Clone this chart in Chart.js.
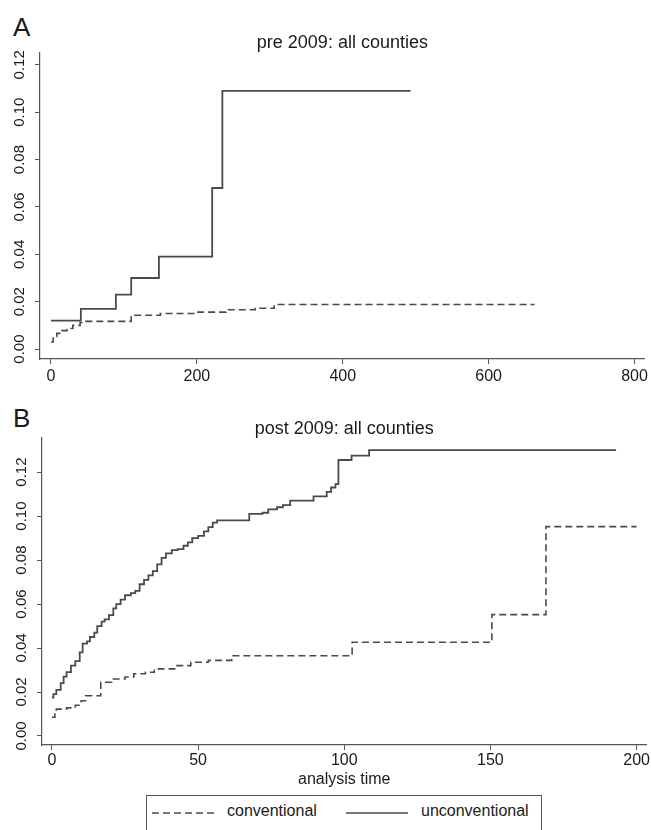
<!DOCTYPE html>
<html>
<head>
<meta charset="utf-8">
<script src="https://cdn.jsdelivr.net/npm/chart.js@4.4.1/dist/chart.umd.min.js"></script>
<style>
  html, body { margin: 0; padding: 0; background: #fff; }
  body { width: 651px; height: 830px; position: relative; overflow: hidden;
         font-family: "Liberation Sans", Arial, sans-serif; color: #1a1a1a; }
  .panel { position: absolute; left: 0; width: 651px; }
  #panelA { top: 0; height: 392px; }
  #panelB { top: 392px; height: 398px; }
  .letter { position: absolute; left: 13px; font-size: 26px; line-height: 26px; }
  #legend { position: absolute; left: 146px; top: 795px; width: 396px; height: 45px;
            border: 1px solid #555; box-sizing: border-box; font-size: 16px; }
  #legend span, #legend svg { position: absolute; top: 6px; }
</style>
</head>
<body>
<div class="letter" style="top:14px">A</div>
<div class="letter" style="top:405px">B</div>
<div class="panel" id="panelA"><canvas id="chartA"></canvas></div>
<div class="panel" id="panelB"><canvas id="chartB"></canvas></div>
<div id="legend">
  <svg style="left:5px;top:7px" width="66" height="20"><line x1="0" y1="10" x2="66" y2="10" stroke="#4a4a4a" stroke-width="1.6" stroke-dasharray="7 4"/></svg>
  <span style="left:80px">conventional</span>
  <svg style="left:199px;top:7px" width="62" height="20"><line x1="0" y1="10" x2="62" y2="10" stroke="#4a4a4a" stroke-width="1.6"/></svg>
  <span style="left:274px">unconventional</span>
</div>
<script>
// panel A: pre 2009
const preXTicks = [0, 200, 400, 600, 800];
const preYTicks = [0, 0.02, 0.04, 0.06, 0.08, 0.10, 0.12];
const preConvTime = [0, 3, 8, 15, 22, 30, 40, 48, 110, 150, 200, 240, 280, 306, 663];
const preConvRisk = [0.003, 0.0052, 0.0066, 0.0078, 0.0087, 0.0100, 0.0112, 0.0117, 0.0143, 0.0150, 0.0156, 0.0166, 0.0172, 0.0188, 0.0188];
const preUnconvTime = [0, 41, 89, 110, 148, 221, 235, 493];
const preUnconvRisk = [0.012, 0.017, 0.023, 0.030, 0.039, 0.068, 0.109, 0.109];

// panel B: post 2009
const postXTicks = [0, 50, 100, 150, 200];
const postYTicks = [0, 0.02, 0.04, 0.06, 0.08, 0.10, 0.12];
const postConvTime = [0, 1, 1.5, 5, 8, 10, 11.5, 16.7, 20.5, 25, 28, 32, 35, 42, 47.5, 53.5, 61.5, 102.7, 150.5, 169, 200];
const postConvRisk = [0.0085, 0.0105, 0.0122, 0.0128, 0.014, 0.016, 0.0183, 0.0244, 0.0259, 0.0268, 0.0283, 0.029, 0.0305, 0.032, 0.0335, 0.0344, 0.0365, 0.0426, 0.0552, 0.0952, 0.0952];
const postUnconvTime = [0, 0.5, 1.5, 3, 4, 5, 6.5, 8, 9.5, 10.5, 12, 13, 14.5, 15.5, 17, 18, 19.5, 21, 22, 23.5, 25, 27, 28.5, 30, 31.5, 33, 34.5, 36, 37.5, 39, 41, 43, 45, 46.5, 48, 50, 52, 53.5, 55, 56.5, 67.5, 72, 74, 77, 79, 81.5, 89.5, 94, 95.5, 97, 98, 102.5, 108.5, 193];
const postUnconvRisk = [0.0175, 0.019, 0.021, 0.024, 0.027, 0.029, 0.032, 0.034, 0.038, 0.042, 0.043, 0.045, 0.047, 0.050, 0.052, 0.053, 0.055, 0.058, 0.060, 0.062, 0.064, 0.065, 0.066, 0.069, 0.071, 0.073, 0.075, 0.078, 0.081, 0.083, 0.0845, 0.085, 0.0865, 0.088, 0.090, 0.091, 0.093, 0.095, 0.097, 0.098, 0.101, 0.1015, 0.103, 0.104, 0.105, 0.107, 0.109, 0.111, 0.113, 0.1145, 0.1255, 0.1275, 0.130, 0.130];

const lineColor = '#4a4a4a';
const axisColor = '#555';
const fontFamily = '"Liberation Sans", Arial, sans-serif';

function toPoints(xs, ys) {
    return xs.map((x, i) => ({ x: x, y: ys[i] }));
}

function buildChart(id, cfg) {
    return new Chart(document.getElementById(id), {
        type: 'line',
        data: {
            datasets: [
                { label: 'conventional', data: toPoints(cfg.convTime, cfg.convRisk),
                  borderColor: lineColor, borderWidth: 1.6, borderDash: [7, 4], stepped: 'before',
                  pointRadius: 0, fill: false },
                { label: 'unconventional', data: toPoints(cfg.unconvTime, cfg.unconvRisk),
                  borderColor: lineColor, borderWidth: 1.8, stepped: 'before',
                  pointRadius: 0, fill: false }
            ]
        },
        options: {
            responsive: true,
            maintainAspectRatio: false,
            animation: false,
            events: [],
            layout: { padding: { left: 0, right: 4, top: 0, bottom: 0 } },
            plugins: {
                legend: { display: false },
                tooltip: { enabled: false },
                title: { display: true, text: cfg.title, color: '#1a1a1a', fullSize: false,
                         font: { family: fontFamily, size: 18, weight: 'normal', lineHeight: 1 },
                         padding: cfg.titlePad }
            },
            scales: {
                x: {
                    type: 'linear', min: cfg.xMin, max: cfg.xMax,
                    afterBuildTicks: s => { s.ticks = cfg.xTicks.map(v => ({ value: v })); },
                    afterFit: s => { s.height = cfg.xHeight; },
                    border: { display: true, color: axisColor, width: 1.2 },
                    grid: { drawOnChartArea: false, drawTicks: true, tickLength: 5, color: axisColor },
                    ticks: { color: '#1a1a1a', padding: cfg.xPad, maxRotation: 0,
                             font: { family: fontFamily, size: 16 } },
                    title: cfg.xTitle ? { display: true, text: cfg.xTitle, color: '#1a1a1a',
                             font: { family: fontFamily, size: 16 }, padding: { top: 0, bottom: 1 } }
                           : { display: false }
                },
                y: {
                    type: 'linear', min: cfg.yMin, max: cfg.yMax,
                    afterBuildTicks: s => { s.ticks = cfg.yTicks.map(v => ({ value: v })); },
                    afterFit: s => { s.width = cfg.yWidth; },
                    border: { display: true, color: axisColor, width: 1.2 },
                    grid: { drawOnChartArea: false, drawTicks: true, tickLength: 5, color: axisColor },
                    ticks: { color: '#1a1a1a', padding: 0.5, minRotation: 90, maxRotation: 90,
                             crossAlign: 'center', callback: v => v.toFixed(2),
                             font: { family: fontFamily, size: 15 } }
                }
            }
        }
    });
}

buildChart('chartA', {
    title: 'pre 2009: all counties', titlePad: { top: 34, bottom: 1 },
    convTime: preConvTime, convRisk: preConvRisk,
    unconvTime: preUnconvTime, unconvRisk: preUnconvRisk,
    xTicks: preXTicks, yTicks: preYTicks,
    xMin: -15, xMax: 814, yMin: -0.0042, yMax: 0.125,
    xHeight: 33, xPad: 3, yWidth: 40
});

buildChart('chartB', {
    title: 'post 2009: all counties', titlePad: { top: 28, bottom: 0 },
    convTime: postConvTime, convRisk: postConvRisk,
    unconvTime: postUnconvTime, unconvRisk: postUnconvRisk,
    xTicks: postXTicks, yTicks: postYTicks,
    xMin: -3.4, xMax: 203.4, yMin: -0.0041, yMax: 0.1355,
    xHeight: 45, xPad: 1, yWidth: 42, xTitle: 'analysis time'
});
</script>
</body>
</html>
